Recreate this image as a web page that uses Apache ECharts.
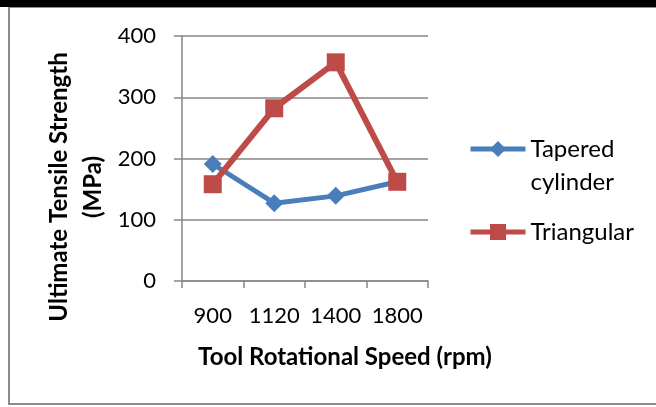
<!DOCTYPE html>
<html>
<head>
<meta charset="utf-8">
<script src="https://cdn.jsdelivr.net/npm/echarts@6/dist/echarts.min.js"></script>
<style>
html,body{margin:0;padding:0;background:#fff;}
#chart{width:656px;height:407px;}
</style>
</head>
<body>
<div id="chart"></div>
<script>
const categories = ['900', '1120', '1400', '1800'];
const taperedCylinder = [191, 127, 139, 162];
const triangular = [158, 282, 357, 162];
const yTicks = [0, 100, 200, 300, 400];
const seriesNames = ['Tapered cylinder', 'Triangular'];
const xTitle = 'Tool Rotational Speed (rpm)';
const yTitle = 'Ultimate Tensile Strength\n(MPa)';

const FONT = 'Lato';
const GRAY = '#868686';
const chart = echarts.init(document.getElementById('chart'), null, {renderer: 'canvas'});

chart.setOption({
  backgroundColor: '#ffffff',
  animation: false,
  textStyle: {fontFamily: FONT},
  grid: {left: 182, right: 228, top: 36, bottom: 126, containLabel: false},
  graphic: [
    {type: 'rect', z: 0, shape: {x: 9, y: 7, width: 700, height: 397},
     style: {fill: 'none', stroke: '#8c8c8c', lineWidth: 2}},
    {type: 'rect', z: 1, shape: {x: 0, y: 0, width: 656, height: 7},
     style: {fill: '#000000'}},
    {type: 'text', x: 76, y: 187, rotation: Math.PI / 2,
     style: {text: yTitle, fontFamily: FONT, fontWeight: 'bold', fontSize: 24,
             lineHeight: 34, fill: '#000', align: 'center', verticalAlign: 'middle'}},
    {type: 'text', x: 345, y: 357,
     style: {text: xTitle, fontFamily: FONT, fontWeight: 'bold', fontSize: 24,
             fill: '#000', align: 'center', verticalAlign: 'middle'}}
  ],
  legend: {
    orient: 'vertical',
    left: 468,
    top: 99.5,
    padding: 0,
    itemWidth: 55,
    itemHeight: 20,
    itemGap: 17,
    lineStyle: {width: 5},
    textStyle: {fontFamily: FONT, fontSize: 24, lineHeight: 33, color: '#000'},
    formatter: function (n) { return n === 'Tapered cylinder' ? '\nTapered\ncylinder' : n; },
    data: [seriesNames[0], seriesNames[1]]
  },
  xAxis: {
    type: 'category',
    data: categories,
    boundaryGap: true,
    axisLine: {show: true, lineStyle: {color: GRAY, width: 1.5}},
    axisTick: {show: true, length: 7, alignWithLabel: false, lineStyle: {color: GRAY, width: 1.5}},
    axisLabel: {color: '#000', fontFamily: FONT, fontSize: 22, margin: 24, interval: 0},
    splitLine: {show: false}
  },
  yAxis: {
    type: 'value',
    min: 0, max: 400, interval: 100,
    axisLine: {show: true, lineStyle: {color: GRAY, width: 1.5}},
    axisTick: {show: true, length: 8, lineStyle: {color: GRAY, width: 1.5}},
    axisLabel: {color: '#000', fontFamily: FONT, fontSize: 22, margin: 26,
                formatter: function (v) { return yTicks.indexOf(v) >= 0 ? String(v) : ''; }},
    splitLine: {show: true, lineStyle: {color: GRAY, width: 1.5}}
  },
  series: [
    {
      name: seriesNames[0], type: 'line', data: taperedCylinder,
      symbol: 'diamond', symbolSize: 18,
      itemStyle: {color: '#4A7EBB'},
      lineStyle: {color: '#4A7EBB', width: 5},
      z: 3
    },
    {
      name: seriesNames[1], type: 'line', data: triangular,
      symbol: 'rect', symbolSize: 18,
      itemStyle: {color: '#BE4B48'},
      lineStyle: {color: '#BE4B48', width: 6},
      z: 4
    }
  ]
});
</script>
</body>
</html>
